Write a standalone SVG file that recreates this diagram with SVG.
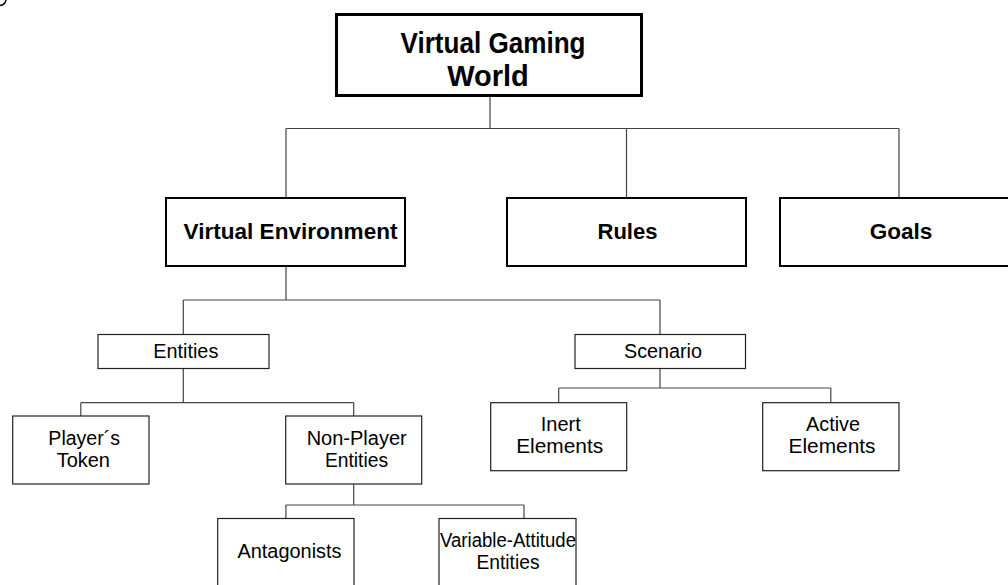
<svg xmlns="http://www.w3.org/2000/svg" width="1008" height="585" viewBox="0 0 1008 585">
  <style>
    .bg { fill: #ffffff; }
    .conn { fill: none; stroke: #444444; stroke-width: 1.2; }
    .top { fill: #ffffff; stroke: #000000; stroke-width: 3; }
    .l2 { fill: #ffffff; stroke: #000000; stroke-width: 2; }
    .l3 { fill: #ffffff; stroke: #222222; stroke-width: 1.2; }
    text { font-family: "Liberation Sans", Arial, sans-serif; fill: #000000; text-anchor: middle; }
    .t1 { font-size: 29px; font-weight: bold; }
    .t2 { font-size: 22px; font-weight: bold; }
    .t3 { font-size: 20px; }
  </style>
  <rect class="bg" x="0" y="0" width="1008" height="585"/>
  <path d="M0,5.5 Q5,5 6,0" fill="none" stroke="#000" stroke-width="1.4"/>

  <g id="connectors">
    <path class="conn" d="M490,96 V128.5 M286,128.5 H899 M286,128.5 V198 M626.5,128.5 V198 M899,128.5 V198"/>
    <path class="conn" d="M286,266 V300 M183.3,300 H660 M183.3,300 V334.5 M660,300 V334.5"/>
    <path class="conn" d="M183.3,368.5 V402.7 M80.8,402.7 H353.7 M80.8,402.7 V416 M353.7,402.7 V416"/>
    <path class="conn" d="M660,368.5 V388 M558.7,388 H830.8 M558.7,388 V402.7 M830.8,388 V402.7"/>
    <path class="conn" d="M353.7,484 V505 M285.9,505 H524 M285.9,505 V518.5 M524,505 V518.5"/>
  </g>

  <g id="virtual-gaming-world">
    <rect class="top" x="336.5" y="14.5" width="305" height="81"/>
    <text class="t1" x="493" y="53" textLength="185" lengthAdjust="spacingAndGlyphs">Virtual Gaming</text>
    <text class="t1" x="488" y="86">World</text>
  </g>
  <g id="virtual-environment">
    <rect class="l2" x="166" y="198" width="239" height="68"/>
    <text class="t2" x="290.5" y="239" textLength="214" lengthAdjust="spacingAndGlyphs">Virtual Environment</text>
  </g>
  <g id="rules">
    <rect class="l2" x="507" y="198" width="239" height="68"/>
    <text class="t2" x="627.5" y="239" textLength="60" lengthAdjust="spacingAndGlyphs">Rules</text>
  </g>
  <g id="goals">
    <rect class="l2" x="780" y="198" width="239" height="68"/>
    <text class="t2" x="901" y="239" textLength="62.7" lengthAdjust="spacingAndGlyphs">Goals</text>
  </g>
  <g id="entities">
    <rect class="l3" x="98" y="334.5" width="171" height="34"/>
    <text class="t3" x="185.8" y="358" textLength="65" lengthAdjust="spacingAndGlyphs">Entities</text>
  </g>
  <g id="scenario">
    <rect class="l3" x="575" y="334.5" width="170.5" height="34"/>
    <text class="t3" x="663" y="357.5" textLength="78" lengthAdjust="spacingAndGlyphs">Scenario</text>
  </g>
  <g id="players-token">
    <rect class="l3" x="12.7" y="416" width="136.3" height="68"/>
    <text class="t3" x="84.2" y="445" textLength="71.7" lengthAdjust="spacingAndGlyphs">Player´s</text>
    <text class="t3" x="83.3" y="466.7" textLength="53.3" lengthAdjust="spacingAndGlyphs">Token</text>
  </g>
  <g id="non-player-entities">
    <rect class="l3" x="285.7" y="416" width="136" height="68"/>
    <text class="t3" x="356.7" y="445" textLength="100" lengthAdjust="spacingAndGlyphs">Non-Player</text>
    <text class="t3" x="356.5" y="466.7" textLength="63" lengthAdjust="spacingAndGlyphs">Entities</text>
  </g>
  <g id="inert-elements">
    <rect class="l3" x="490.7" y="402.7" width="136" height="68"/>
    <text class="t3" x="560.8" y="431" textLength="40" lengthAdjust="spacingAndGlyphs">Inert</text>
    <text class="t3" x="559.7" y="452.7" textLength="87" lengthAdjust="spacingAndGlyphs">Elements</text>
  </g>
  <g id="active-elements">
    <rect class="l3" x="762.7" y="402.7" width="136.3" height="68"/>
    <text class="t3" x="833" y="431" textLength="54" lengthAdjust="spacingAndGlyphs">Active</text>
    <text class="t3" x="832" y="452.7" textLength="87" lengthAdjust="spacingAndGlyphs">Elements</text>
  </g>
  <g id="antagonists">
    <rect class="l3" x="217.7" y="518.5" width="136.3" height="72"/>
    <text class="t3" x="289.5" y="557.5" textLength="104" lengthAdjust="spacingAndGlyphs">Antagonists</text>
  </g>
  <g id="variable-attitude-entities">
    <rect class="l3" x="439" y="518.5" width="137" height="72"/>
    <text class="t3" x="508" y="547" textLength="136" lengthAdjust="spacingAndGlyphs">Variable-Attitude</text>
    <text class="t3" x="508" y="568.5" textLength="63" lengthAdjust="spacingAndGlyphs">Entities</text>
  </g>
</svg>
